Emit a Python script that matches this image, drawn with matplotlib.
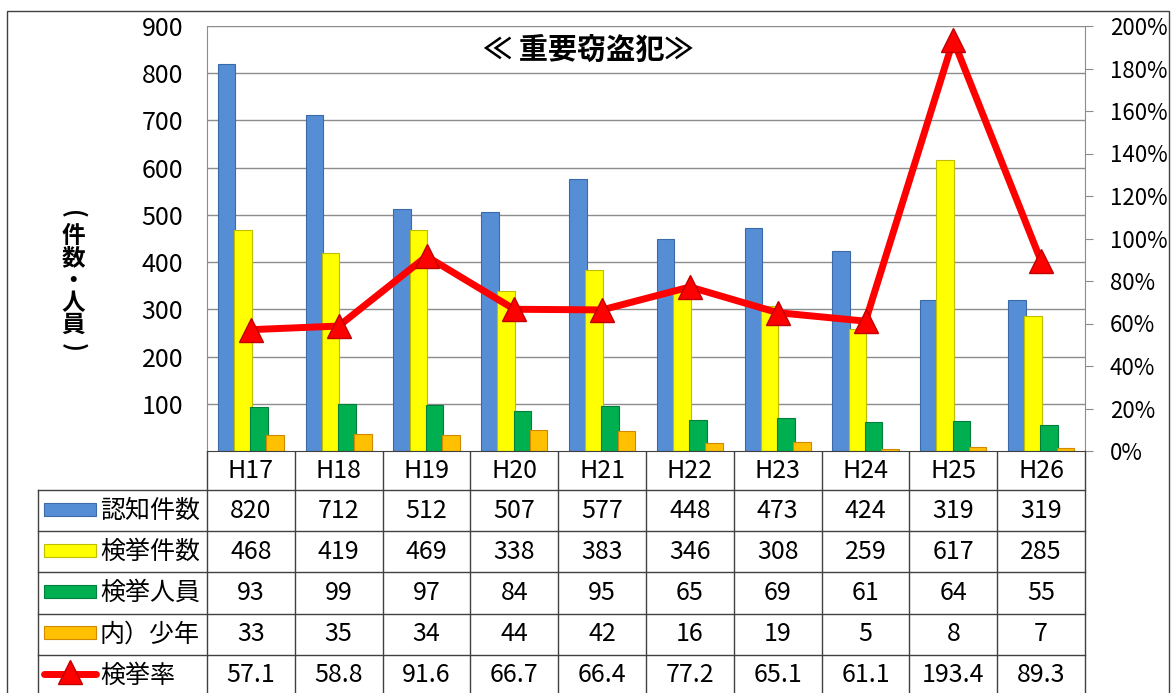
import matplotlib
matplotlib.use("Agg")
import matplotlib.pyplot as plt
import numpy as np
from matplotlib.patches import Rectangle

plt.rcParams['font.family'] = ['Noto Sans CJK JP', 'DejaVu Sans']

# data
years = ["H17", "H18", "H19", "H20", "H21", "H22", "H23", "H24", "H25", "H26"]
ninchi = [820, 712, 512, 507, 577, 448, 473, 424, 319, 319]
kenkyo = [468, 419, 469, 338, 383, 346, 308, 259, 617, 285]
jinin = [93, 99, 97, 84, 95, 65, 69, 61, 64, 55]
shonen = [33, 35, 34, 44, 42, 16, 19, 5, 8, 7]
rate = [57.1, 58.8, 91.6, 66.7, 66.4, 77.2, 65.1, 61.1, 193.4, 89.3]
names = ["認知件数", "検挙件数", "検挙人員", "内）少年", "検挙率"]
title = "≪ 重要窃盗犯≫"
ylabel_chars = ["(", "件", "数", "・", "人", "員", ")"]

bar_colors = ["#558ED5", "#FFFF00", "#00B050", "#FFC000"]
bar_edges = ["#3A6BA8", "#BFBF00", "#00803A", "#D08A00"]

W, H = 1172, 693
fig = plt.figure(figsize=(W / 100, H / 100), dpi=100)

# layout in pixels
left, right, top, bottom = 207, 1085, 26, 451
tab_left = 38
hdr_h = 39
row_h = 41.2
FS = 18
grid_c = "#8C8C8C"
line_c = "#404040"

ax = fig.add_axes([left / W, 1 - bottom / H, (right - left) / W, (bottom - top) / H])
x = np.arange(len(years))
series = [ninchi, kenkyo, jinin, shonen]
bw = 0.2
step = 0.185
for i, (vals, c, ec) in enumerate(zip(series, bar_colors, bar_edges)):
    ax.bar(x + (i - 1.5) * step, vals, bw, color=c, edgecolor=ec, linewidth=0.8, zorder=2 + i * 0.01)

ax.set_xlim(-0.5, len(years) - 0.5)
ax.set_ylim(0, 900)
ax.set_yticks(np.arange(100, 901, 100))
ax.set_xticks([])
ax.grid(axis="y", color=grid_c, linewidth=1, zorder=0)
ax.tick_params(axis="y", length=0, pad=17, labelsize=FS)
for s in ["left", "right", "top"]:
    ax.spines[s].set_color(grid_c)
ax.spines["top"].set_visible(False)
ax.spines["bottom"].set_color(line_c)

ax2 = ax.twinx()
ax2.plot(x, rate, color="#FF0000", linewidth=5, marker="^", markersize=17,
         markerfacecolor="#FF0000", markeredgecolor="#C00000", zorder=5)
ax2.set_ylim(0, 200)
ax2.set_yticks(np.arange(0, 201, 20))
ax2.set_yticklabels([f"{v}%" for v in range(0, 201, 20)])
ax2.tick_params(axis="y", length=6, color=grid_c, pad=12, labelsize=16)
for s in ["left", "right", "top", "bottom"]:
    ax2.spines[s].set_visible(False)

fig.text(588 / W, 1 - 50 / H, title, fontsize=21, fontweight="bold", ha="center", va="center")

# vertical y label (parentheses turned for vertical writing)
for k, ch in enumerate(ylabel_chars):
    rot = -90 if ch in "()" else 0
    fig.text(73 / W, 1 - (214 + k * 22.2) / H, ch, fontsize=17, fontweight="bold",
             ha="center", va="center", rotation=rot)

# data table
tax = fig.add_axes([0, 0, 1, 1 - bottom / H])
tax.set_xlim(0, W)
tax.set_ylim(H, bottom)
tax.axis("off")
col_w = (right - left) / len(years)
n_rows = len(names)
row_edges = [bottom + hdr_h + row_h * r for r in range(n_rows + 1)]

tax.plot([left, left], [bottom, H + 10], color=line_c, lw=1)
for k in range(1, len(years) + 1):
    xx = left + k * col_w
    tax.plot([xx, xx], [bottom, H + 10], color=line_c, lw=1)
tax.plot([tab_left, tab_left], [row_edges[0], H + 10], color=line_c, lw=1)
for yy in row_edges[:-1]:
    tax.plot([tab_left, right], [yy, yy], color=line_c, lw=1)

for k, yr in enumerate(years):
    tax.text(left + (k + 0.5) * col_w, bottom + hdr_h / 2, yr, fontsize=FS, ha="center", va="center")

table_vals = [ninchi, kenkyo, jinin, shonen, rate]
for r, (name, vals) in enumerate(zip(names, table_vals)):
    yc = row_edges[r] + row_h / 2
    if r < 4:
        tax.add_patch(Rectangle((44, yc - 8), 52, 13, facecolor=bar_colors[r],
                                edgecolor=bar_edges[r], lw=0.8))
    else:
        tax.plot([44, 96], [yc - 1, yc - 1], color="#FF0000", lw=5, solid_capstyle="round")
        tax.plot([70], [yc - 3], marker="^", markersize=17, color="#FF0000",
                 markeredgecolor="#C00000")
    tax.text(100, yc, name, fontsize=FS, ha="left", va="center")
    for k, v in enumerate(vals):
        tax.text(left + (k + 0.5) * col_w, yc, f"{v}", fontsize=FS, ha="center", va="center")

# outer border
fig.add_artist(Rectangle((7 / W, -0.05), (1169 - 7) / W, 1.05 - 11 / H, transform=fig.transFigure,
                         fill=False, edgecolor="#404040", lw=1))

fig.savefig("out.png", dpi=100)
